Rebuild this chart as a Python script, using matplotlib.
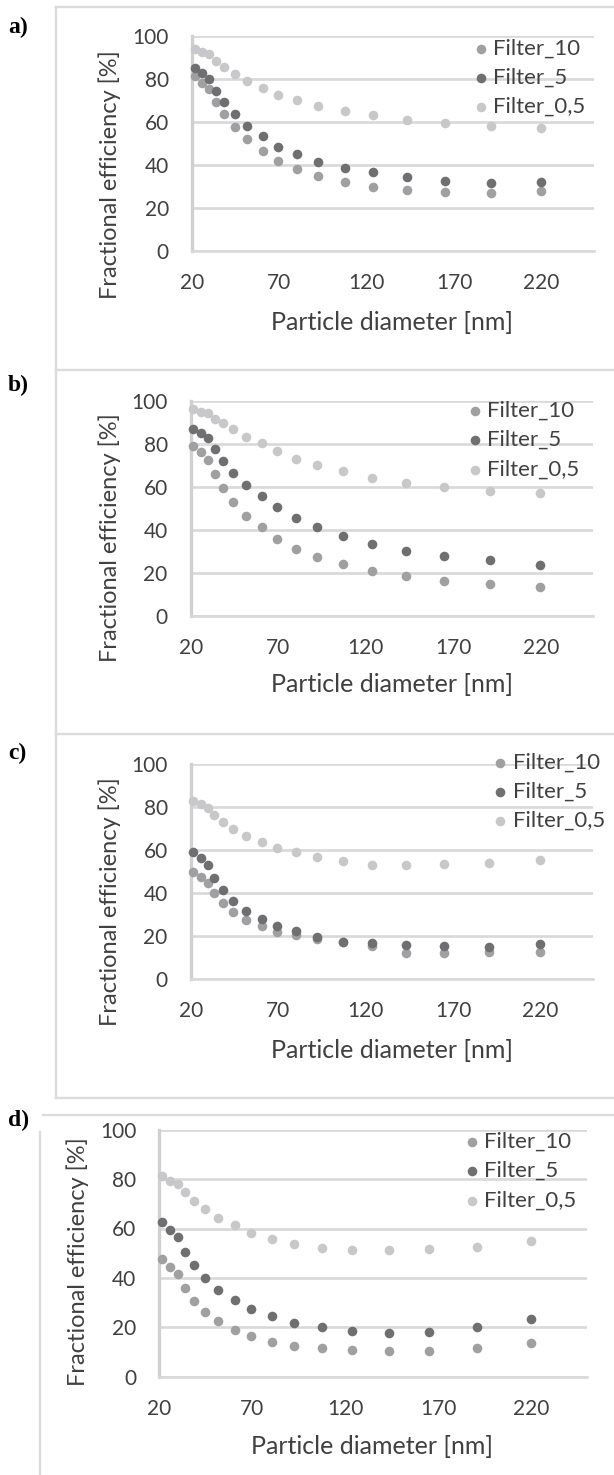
import matplotlib
matplotlib.use("Agg")
import matplotlib.pyplot as plt
from matplotlib.lines import Line2D

W, H = 614, 1475

# particle diameter bins [nm], shared by all four panels
diameter = [21.5, 25.7, 29.9, 33.6, 38.6, 44.4, 51.6, 60.5, 69.5, 80.4,
            92.3, 107.3, 123.4, 143.2, 164.8, 190.8, 219.5]

# fractional efficiency [%] per panel
f10_a = [81.4, 78.3, 75.2, 69.5, 63.6, 57.8, 51.9, 46.7, 42.0, 38.3, 35.0, 32.1, 29.9, 28.4, 27.4, 27.1, 28.1]
f5_a = [85.0, 82.6, 80.0, 74.4, 69.1, 63.6, 58.3, 53.3, 48.5, 45.0, 41.2, 38.4, 36.6, 34.4, 32.6, 31.8, 32.2]
f05_a = [93.8, 92.4, 91.5, 88.4, 85.4, 82.3, 79.1, 76.0, 72.6, 70.1, 67.6, 65.3, 63.3, 60.9, 59.5, 58.1, 57.4]

f10_b = [78.9, 76.0, 72.4, 66.0, 59.5, 52.7, 46.5, 41.1, 35.7, 31.2, 27.3, 23.9, 20.9, 18.6, 16.3, 14.7, 13.3]
f5_b = [87.0, 85.0, 82.5, 77.5, 72.1, 66.4, 60.9, 55.8, 50.5, 45.6, 41.2, 37.2, 33.5, 30.2, 27.6, 26.0, 23.6]
f05_b = [96.3, 94.9, 94.1, 91.6, 89.5, 86.7, 83.3, 80.2, 76.7, 73.0, 70.2, 67.1, 64.2, 61.9, 60.0, 58.1, 57.2]

f10_c = [50.1, 47.6, 44.7, 40.0, 35.3, 31.5, 27.6, 24.8, 22.2, 20.6, 18.8, 17.2, 15.7, 12.4, 12.4, 12.9, 12.6]
f5_c = [59.4, 56.4, 53.2, 47.1, 41.6, 36.4, 31.9, 27.9, 25.0, 22.3, 19.5, 17.5, 16.7, 16.0, 15.5, 15.1, 16.3]
f05_c = [82.9, 81.7, 79.8, 76.3, 73.3, 69.8, 66.7, 63.7, 61.1, 59.1, 56.7, 55.0, 53.3, 53.3, 53.8, 54.3, 55.5]

f10_d = [47.6, 44.4, 41.4, 35.9, 30.5, 26.3, 22.4, 18.9, 16.5, 14.0, 12.6, 11.5, 10.7, 10.3, 10.4, 11.6, 13.6]
f5_d = [62.5, 59.5, 56.5, 50.6, 45.2, 40.1, 35.2, 31.0, 27.4, 24.6, 21.6, 20.0, 18.6, 17.8, 18.1, 20.0, 23.3]
f05_d = [81.4, 79.4, 77.9, 74.6, 71.3, 67.8, 64.4, 61.4, 58.3, 55.7, 53.7, 52.1, 51.4, 51.4, 51.6, 52.6, 55.1]

series_names = ["Filter_10", "Filter_5", "Filter_0,5"]
series_colors = ["#a0a0a2", "#6f6f71", "#c8c8ca"]
x_ticks = [20, 70, 120, 170, 220]
y_ticks = [0, 20, 40, 60, 80, 100]

# panel geometry in pixels: axes box (left, right, top, bottom), legend marker x / middle row y,
# y-label centre, x-label centre, letter y
panels = [
    ("a)", (f10_a, f5_a, f05_a), (191.9, 594.0, 36.0, 251.0), (480.8, 77.7), (110, 174.5), (392, 322), 27.5),
    ("b)", (f10_b, f5_b, f05_b), (190.7, 593.2, 400.7, 615.7), (475.0, 440.0), (110, 537.5), (392, 685), 385),
    ("c)", (f10_c, f5_c, f05_c), (190.7, 593.0, 764.3, 979.3), (500.4, 791.7), (110, 901.7), (392, 1050), 753),
    ("d)", (f10_d, f5_d, f05_d), (159.4, 587.3, 1129.7, 1376.7), (471.8, 1171.0), (78, 1262), (372, 1446.7), 1120),
]

plt.rcParams["font.family"] = ["Lato", "DejaVu Sans"]
text_col = "#404040"
tick_fs = 15
legend_fs = 16
xlabel_fs = 18
ylabel_fs = 17
px = 72 / 100.0  # points per pixel

fig = plt.figure(figsize=(W / 100, H / 100), dpi=100)


def fx(x):
    return x / W


def fy(y):
    return 1 - y / H


for letter, ys, (l, r, t, b), (lx, ly), (ylx, yly), (xlx, xly), lety in panels:
    ax = fig.add_axes([fx(l), fy(b), fx(r - l), (b - t) / H])
    for vals, name, col in zip(ys, series_names, series_colors):
        ax.scatter(diameter, vals, s=48, color=col, linewidths=0, label=name,
                   zorder=3, clip_on=False)
    ax.set_xlim(20, 250)
    ax.set_ylim(0, 100)
    ax.set_xticks(x_ticks)
    ax.set_yticks(y_ticks)
    ax.set_axisbelow(True)
    ax.grid(axis="y", color="#d9d9d9", linewidth=1.9)
    for s in ["top", "right"]:
        ax.spines[s].set_visible(False)
    ax.spines["left"].set_color("#d0d0d0")
    ax.spines["left"].set_linewidth(2.4)
    ax.spines["bottom"].set_color("#d9d9d9")
    ax.spines["bottom"].set_linewidth(1.9)
    ax.tick_params(axis="y", length=0, pad=23 * px, labelsize=tick_fs, labelcolor=text_col)
    ax.tick_params(axis="x", length=0, pad=22 * px, labelsize=tick_fs, labelcolor=text_col)

    hl = 0.7
    fs_px = legend_fs / px
    leg = ax.legend(loc="center left",
                    bbox_to_anchor=(fx(lx - hl * fs_px / 2), fy(ly)),
                    bbox_transform=fig.transFigure, frameon=False,
                    borderpad=0, borderaxespad=0, handlelength=hl,
                    handletextpad=0.2, labelspacing=0.42, scatterpoints=1,
                    fontsize=legend_fs)
    for txt in leg.get_texts():
        txt.set_color(text_col)

    fig.text(fx(ylx), fy(yly), "Fractional efficiency [%]", rotation=90,
             ha="center", va="center", fontsize=ylabel_fs, color=text_col)
    fig.text(fx(xlx), fy(xly), "Particle diameter [nm]", ha="center",
             va="center", fontsize=xlabel_fs, color=text_col)
    fig.text(fx(8), fy(lety), letter, ha="left", va="center",
             fontsize=17, fontweight="bold", family="Liberation Serif",
             color="black")

# frames around the panels
frame = dict(color="#dcdcdc", linewidth=1.7, transform=fig.transFigure)
fig.add_artist(Line2D([fx(55.5), fx(55.5)], [fy(7.3), fy(1098.3)], **frame))
for yy in [7.3, 370.3, 734.0, 1098.3]:
    fig.add_artist(Line2D([fx(55.5), 1], [fy(yy), fy(yy)], **frame))
fig.add_artist(Line2D([fx(43), 1], [fy(1115), fy(1115)], **frame))
fig.add_artist(Line2D([fx(39.5), fx(39.5)], [fy(1131.7), 0], **frame))

fig.savefig("out.png", dpi=100, facecolor="white")
